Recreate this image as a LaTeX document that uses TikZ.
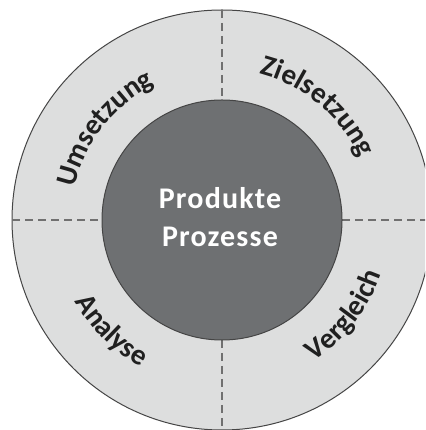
\documentclass[tikz,border=0pt]{standalone}
\usepackage{fontspec}
\setmainfont{Carlito}
\usetikzlibrary{decorations.text}

\definecolor{ringfill}{HTML}{DDDEDE}
\definecolor{corefill}{HTML}{6E7072}
\definecolor{edge}{HTML}{454545}
\definecolor{divider}{HTML}{707070}
\definecolor{ringtext}{HTML}{202020}

\newcommand{\ringfont}{\fontsize{29}{29}\selectfont\bfseries}

\tikzset{
  ringlabel/.style={decorate, decoration={text along path, text align=center,
      text color=ringtext, text={|\ringfont|#1}}},
  dividerline/.style={draw=divider, line width=1.1pt, dash pattern=on 8pt off 5pt},
}

\begin{document}
\begin{tikzpicture}[x=1pt,y=1pt]
  \useasboundingbox (0,0) rectangle (425,430);
  \begin{scope}
    \clip (0,0) rectangle (425,430);
    \coordinate (c) at (222,210);
    % outer ring and core
    \fill[ringfill] (c) circle[radius=210];
    \draw[edge, line width=1pt] (c) circle[radius=210];
    % quadrant dividers
    \path[dividerline] (222,420) -- (222,330);
    \path[dividerline] (222,90) -- (222,0);
    \path[dividerline] (12,210) -- (102,210);
    \path[dividerline] (342,210) -- (432,210);
    \node[circle, minimum size=240pt, inner sep=0pt, fill=corefill,
          draw=edge, line width=1pt] (core) at (c) {};
    \node[text=white, font=\fontsize{30}{38}\selectfont\bfseries\addfontfeature{LetterSpace=4},
          align=center] (coretext) at (220,213) {Produkte\\Prozesse};
    % ring labels: upper ones read clockwise, lower ones counter-clockwise
    \path[ringlabel=Umsetzung] ([shift={(177:151)}]c) arc[start angle=177, end angle=107, radius=151];
    \path[ringlabel=Zielsetzung] ([shift={(89:151)}]c) arc[start angle=89, end angle=11, radius=151];
    \path[ringlabel=Vergleich] ([shift={(-72:168)}]c) arc[start angle=-72, end angle=-4, radius=168];
    \path[ringlabel=Analyse] ([shift={(-166:168)}]c) arc[start angle=-166, end angle=-104, radius=168];
  \end{scope}
\end{tikzpicture}
\end{document}
